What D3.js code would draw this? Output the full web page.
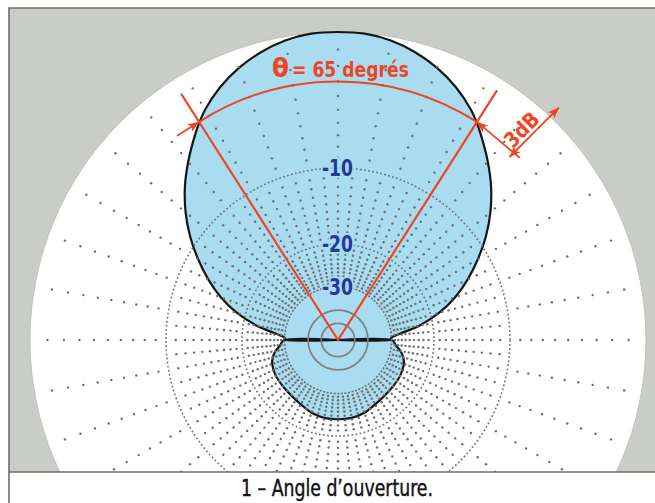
<!DOCTYPE html>
<html>
<head>
<meta charset="utf-8">
<script src="https://cdn.jsdelivr.net/npm/d3@7"></script>
<style>
  html, body { margin: 0; padding: 0; background: #fff; }
  svg { display: block; }
</style>
</head>
<body>
<svg id="chart" width="655" height="503"></svg>
<script>
'use strict';

// radiation pattern, one half (0 = forward / up, 180 = back), mirrored on the other side
var angles = [0, 5, 10, 15, 20, 25, 30, 32.5, 35, 40, 45, 50, 55, 60, 65, 70, 75, 80, 85, 88, 89.5, 90,
              90.5, 95, 100, 105, 110, 120, 130, 140, 150, 160, 170, 180];
var gains  = [0, -0.03, -0.22, -0.57, -1.06, -1.70, -2.52, -3.04, -3.61, -4.79, -6.05, -7.50, -9.17, -11.08, -13.17, -15.55, -18.55, -22.6, -28.2, -30.2, -30.2, -99,
              -29.7, -28.7, -27.1, -26.05, -25.4, -25.0, -24.95, -24.8, -24.4, -23.7, -23.35, -23.3];

var ringLevels = [-10, -20, -30, -40, -50];
var ringLabels = ["-10", "-20", "-30"];
var beamWidth = 65;     // degrees, at -3 dB
var halfPower = -3;
var titleSymbol = "θ";
var titleText = "= 65 degrés";
var dimText = "3dB";
var caption = "1 – Angle d’ouverture.";

var svg = d3.select("#chart"),
    W = +svg.attr("width"),
    H = +svg.attr("height"),
    frame = {left: 9, top: 8, bottom: 472},
    cx = 338, cy = 340, R = 308;

var red = "#ee4523", blue = "#27389c", lobeFill = "#a9dcf1", gridCol = "#6e6e6e";
var narrow = "'Liberation Sans Narrow', 'DejaVu Sans Condensed', 'Arial Narrow', sans-serif";

// ARRL style log scale: 0.89 per 2 dB
var amp = d3.scaleLinear().domain([0, 1]).range([0, R]);
function rOf(db) { return amp(Math.pow(0.89, -db / 2)); }
function pt(deg, r) {
  var a = deg * Math.PI / 180;
  return [cx + r * Math.sin(a), cy - r * Math.cos(a)];
}

svg.append("defs").append("clipPath").attr("id", "plotClip")
  .append("rect").attr("x", frame.left).attr("y", frame.top)
  .attr("width", W - frame.left).attr("height", frame.bottom - frame.top);

svg.append("marker").attr("id", "arrow")
    .attr("viewBox", "0 0 10 8").attr("refX", 10).attr("refY", 4)
    .attr("markerWidth", 12).attr("markerHeight", 9)
    .attr("markerUnits", "userSpaceOnUse").attr("orient", "auto")
  .append("path").attr("d", "M0,0 L10,4 L0,8 L2.5,4 z").attr("fill", red);

// frame
svg.append("rect").attr("x", frame.left).attr("y", frame.top)
  .attr("width", W - frame.left).attr("height", frame.bottom - frame.top)
  .attr("fill", "#c9ccc7");

var plot = svg.append("g").attr("clip-path", "url(#plotClip)");

plot.append("circle").attr("cx", cx).attr("cy", cy).attr("r", R)
  .attr("fill", "#fff").attr("stroke", "#bfc2be").attr("stroke-width", 1);

// pattern data -> closed polar path
var pattern = angles.map(function(a, i) { return {a: a, g: gains[i]}; });
var full = pattern.concat(pattern.slice(1, -1).reverse().map(function(d) { return {a: -d.a, g: d.g}; }));

var lobe = d3.lineRadial()
  .angle(function(d) { return d.a * Math.PI / 180; })
  .radius(function(d) { return rOf(d.g); })
  .curve(d3.curveCatmullRomClosed.alpha(0.5));

var lobeG = plot.append("g").attr("transform", "translate(" + cx + "," + cy + ")");
lobeG.append("path").datum(full).attr("d", lobe).attr("fill", lobeFill);

// grid: dotted spokes, one dot per dB
var dots = [];
for (var a = 0; a < 360; a += 5) {
  var from = (a % 10 === 0) ? -1 : -11;
  for (var db = from; db >= -29; db--) {
    if (db === -10 || db === -20) continue;
    dots.push(pt(a, rOf(db)));
  }
}
plot.append("g").selectAll("circle").data(dots).enter().append("circle")
  .attr("cx", function(d) { return d[0]; })
  .attr("cy", function(d) { return d[1]; })
  .attr("r", 1.2).attr("fill", gridCol);

plot.append("g").selectAll("circle").data(ringLevels).enter().append("circle")
  .attr("cx", cx).attr("cy", cy)
  .attr("r", function(d) { return rOf(d); })
  .attr("fill", "none")
  .attr("stroke", function(d) { return d <= -40 ? "#808080" : gridCol; })
  .attr("stroke-width", function(d) { return d <= -40 ? 1.7 : 1.6; })
  .attr("stroke-dasharray", function(d) { return d <= -40 ? null : (d === -30 ? "2,1.6" : "1.7,2.4"); });

// outline
lobeG.append("path").datum(full).attr("d", lobe)
  .attr("fill", "none").attr("stroke", "#161616").attr("stroke-width", 2.2)
  .attr("stroke-linejoin", "round");

// -3 dB beam width annotation
var r3 = rOf(halfPower), half = beamWidth / 2;
var pL = pt(-half, r3), pR = pt(half, r3);
var ends = [pt(-half, 292), pt(half, 296)];

plot.append("path")
  .attr("d", "M" + ends[0] + "L" + cx + "," + cy + "L" + ends[1])
  .attr("fill", "none").attr("stroke", red).attr("stroke-width", 2.2);

var arc = d3.arc().innerRadius(r3).outerRadius(r3)
  .startAngle(-half * Math.PI / 180).endAngle(half * Math.PI / 180);
plot.append("path").attr("transform", "translate(" + cx + "," + cy + ")")
  .attr("d", arc()).attr("fill", "none").attr("stroke", red).attr("stroke-width", 2);

// tangent arrows on the -3 dB points
var tL = [Math.cos(half * Math.PI / 180), -Math.sin(half * Math.PI / 180)];
plot.append("line")
  .attr("x1", pL[0] - 26 * tL[0]).attr("y1", pL[1] - 26 * tL[1])
  .attr("x2", pL[0]).attr("y2", pL[1])
  .attr("stroke", red).attr("stroke-width", 1.8).attr("marker-end", "url(#arrow)");

var wDir = [Math.cos(40 * Math.PI / 180), Math.sin(40 * Math.PI / 180)];
var wEnd = [pR[0] + 56 * wDir[0], pR[1] + 56 * wDir[1]];
plot.append("line")
  .attr("x1", wEnd[0]).attr("y1", wEnd[1]).attr("x2", pR[0]).attr("y2", pR[1])
  .attr("stroke", red).attr("stroke-width", 1.8).attr("marker-end", "url(#arrow)");

var d0 = [pR[0] + 48 * wDir[0], pR[1] + 48 * wDir[1]];
var dd = [Math.SQRT1_2, -Math.SQRT1_2];
var d1 = [d0[0] + 64 * dd[0], d0[1] + 64 * dd[1]];
var mid = [(d0[0] + d1[0]) / 2, (d0[1] + d1[1]) / 2];
plot.append("line")
  .attr("x1", mid[0]).attr("y1", mid[1]).attr("x2", d0[0] - 6 * dd[0]).attr("y2", d0[1] - 6 * dd[1])
  .attr("stroke", red).attr("stroke-width", 1.8).attr("marker-end", "url(#arrow)");
plot.append("line")
  .attr("x1", mid[0]).attr("y1", mid[1]).attr("x2", d1[0]).attr("y2", d1[1])
  .attr("stroke", red).attr("stroke-width", 1.8).attr("marker-end", "url(#arrow)");

var tp = [d0[0] + 22 * dd[0] - 11 * Math.SQRT1_2, d0[1] + 22 * dd[1] - 11 * Math.SQRT1_2];
plot.append("text")
  .attr("transform", "translate(" + tp[0] + "," + tp[1] + ") rotate(-45)")
  .attr("x", -20).attr("dy", "0.36em")
  .attr("textLength", 40).attr("lengthAdjust", "spacingAndGlyphs")
  .style("font-family", narrow).style("font-weight", "bold").style("font-size", "21px")
  .attr("fill", red).text(dimText);

// title: symbol and rest as two texts side by side
plot.append("text").attr("x", 272).attr("y", 77)
  .attr("textLength", 17).attr("lengthAdjust", "spacingAndGlyphs")
  .attr("fill", red)
  .style("font-family", narrow).style("font-weight", "bold").style("font-size", "27px")
  .text(titleSymbol);
plot.append("text").attr("x", 292).attr("y", 77)
  .attr("textLength", 117).attr("lengthAdjust", "spacingAndGlyphs")
  .attr("fill", red)
  .style("font-family", narrow).style("font-weight", "bold").style("font-size", "22px")
  .text(titleText);

// ring labels
plot.append("g").selectAll("text").data(ringLabels).enter().append("text")
  .attr("x", cx - 16).attr("y", function(d) { return cy - rOf(+d); })
  .attr("dy", "0.36em")
  .attr("textLength", 31).attr("lengthAdjust", "spacingAndGlyphs")
  .attr("fill", blue).attr("stroke", lobeFill).attr("stroke-width", 4)
  .attr("paint-order", "stroke")
  .style("font-family", narrow).style("font-weight", "bold").style("font-size", "23px")
  .text(function(d) { return d; });

// frame lines and caption
svg.append("path")
  .attr("d", "M" + frame.left + "," + H + "V" + frame.top + "H" + W + "M" + frame.left + "," + frame.bottom + "H" + W)
  .attr("fill", "none").attr("stroke", "#6f6f6f").attr("stroke-width", 1.6);

svg.append("text").attr("x", 241).attr("y", 496)
  .attr("textLength", 192).attr("lengthAdjust", "spacingAndGlyphs")
  .attr("fill", "#111").attr("stroke", "#111").attr("stroke-width", 0.4)
  .style("font-family", narrow).style("font-size", "23px")
  .text(caption);
</script>
</body>
</html>
